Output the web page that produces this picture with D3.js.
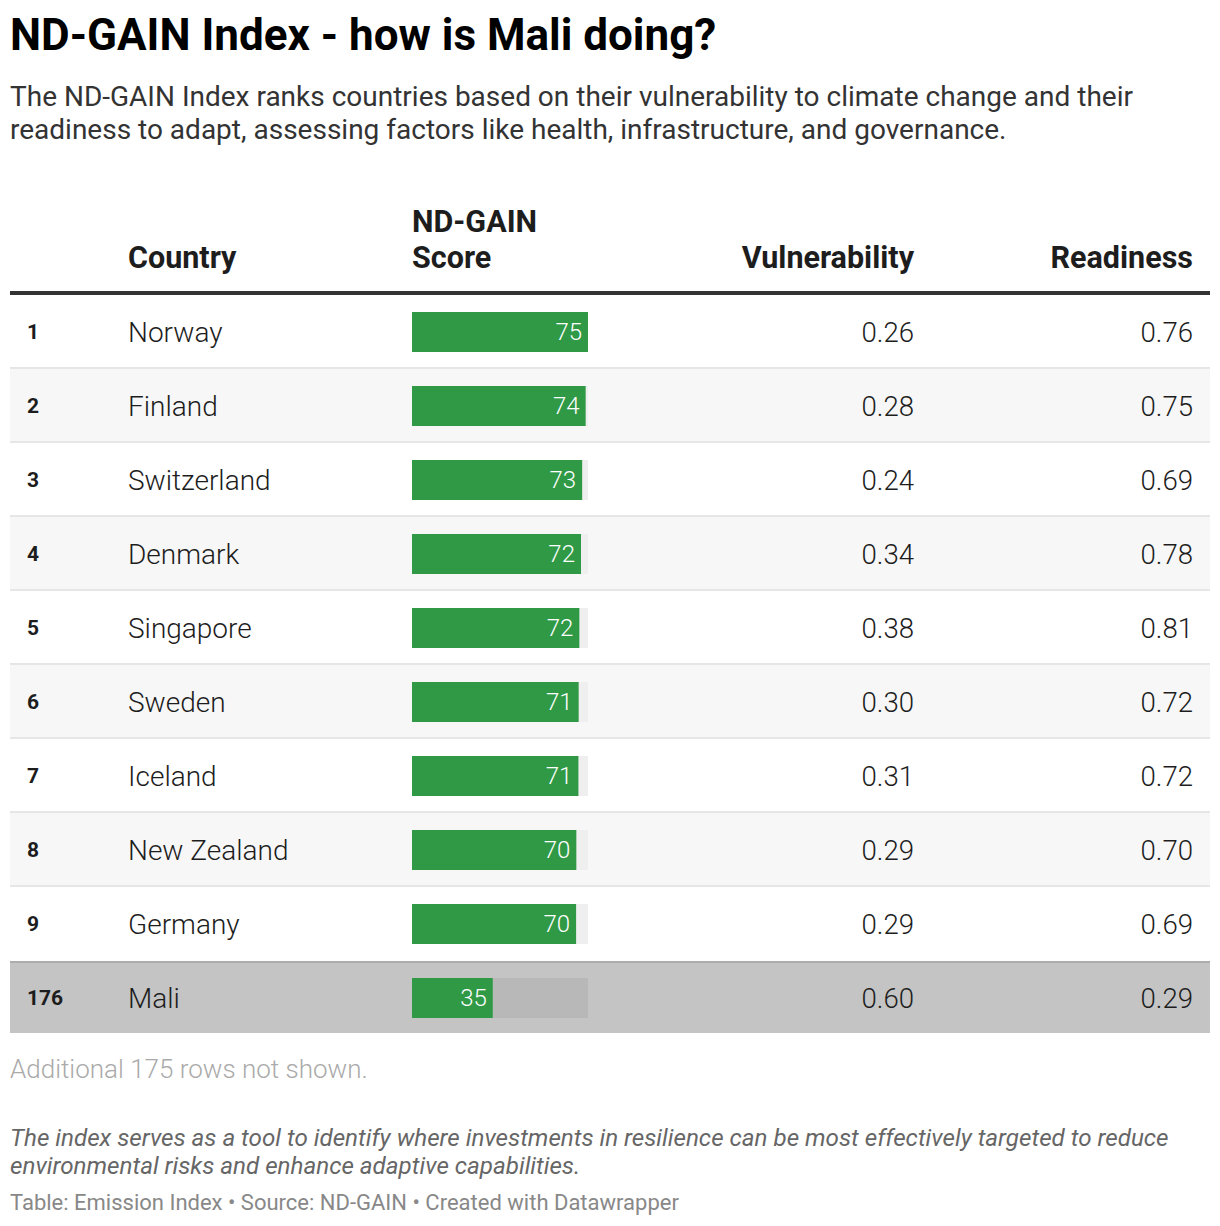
<!DOCTYPE html>
<html><head><meta charset="utf-8">
<script src="https://cdn.jsdelivr.net/npm/d3@7"></script>
<style>
html,body{margin:0;padding:0;background:#fff;}
svg{display:block;font-family:Roboto,"Noto Sans",sans-serif;}
</style></head>
<body>
<svg id="chart" width="1220" height="1226"></svg>
<script>
const ranks = [1,2,3,4,5,6,7,8,9,176];
const countries = ["Norway","Finland","Switzerland","Denmark","Singapore","Sweden","Iceland","New Zealand","Germany","Mali"];
const scores = [75.4,74.4,72.9,72.4,71.7,71.4,71.3,70.4,70.3,34.6];
const vulnerability = ["0.26","0.28","0.24","0.34","0.38","0.30","0.31","0.29","0.29","0.60"];
const readiness = ["0.76","0.75","0.69","0.78","0.81","0.72","0.72","0.70","0.69","0.29"];
const headers = {country:"Country", score:["ND-GAIN","Score"], vuln:"Vulnerability", ready:"Readiness"};
const highlight = "Mali";

const svg = d3.select("#chart");

svg.append("text").attr("x",10).attr("y",50)
  .attr("font-size",44).attr("font-weight",700).attr("fill","#000")
  .text("ND-GAIN Index - how is Mali doing?");
const sub = ["The ND-GAIN Index ranks countries based on their vulnerability to climate change and their",
  "readiness to adapt, assessing factors like health, infrastructure, and governance."];
svg.selectAll("text.sub").data(sub).join("text").attr("class","sub")
  .attr("x",10).attr("y",(d,i)=>106+i*33)
  .attr("font-size",28).attr("font-weight",400).attr("fill","#333").text(d=>d);

// header
const hdr = svg.append("g").attr("font-size",30.5).attr("font-weight",700).attr("fill","#1d1d1d");
hdr.append("text").attr("x",128).attr("y",268).text(headers.country);
hdr.append("text").attr("x",412).attr("y",232).text(headers.score[0]);
hdr.append("text").attr("x",412).attr("y",268).text(headers.score[1]);
hdr.append("text").attr("x",914).attr("y",268).attr("text-anchor","end").text(headers.vuln);
hdr.append("text").attr("x",1193).attr("y",268).attr("text-anchor","end").text(headers.ready);

const rows = countries.map((c,i)=>({rank:ranks[i],country:c,score:scores[i],vuln:vulnerability[i],ready:readiness[i],i}));

const y = d3.scaleBand().domain(d3.range(rows.length)).range([295,295+74*rows.length]).paddingInner(0);
const x = d3.scaleLinear().domain([0,d3.max(scores)]).range([0,176]);
const barX = 412, barH = 40;

const g = svg.append("g");
const row = g.selectAll("g.row").data(rows).join("g").attr("class","row")
  .attr("transform",d=>`translate(0,${y(d.i)})`);

row.append("rect").attr("x",10).attr("y",0).attr("width",1200).attr("height",d=>d.country===highlight?72:y.bandwidth())
  .attr("fill",d=>d.country===highlight?"#c4c4c4":(d.i%2===1?"#f7f7f7":"#fff"));
row.filter(d=>d.country!==highlight && d.i<rows.length-2).append("rect").attr("x",10).attr("y",y.bandwidth()-2).attr("width",1200).attr("height",2).attr("fill","#e6e6e6");
row.filter(d=>d.country===highlight).append("rect").attr("x",10).attr("y",0).attr("width",1200).attr("height",2).attr("fill","#adadad");

const cy = 37;
row.append("text").attr("x",27).attr("y",cy+7).attr("font-size",21).attr("font-weight",700).attr("fill","#1d1d1d").text(d=>d.rank);
row.append("text").attr("x",128).attr("y",cy+10).attr("font-size",28).attr("font-weight",300).attr("fill","#1d1d1d").text(d=>d.country);
row.append("rect").attr("x",barX).attr("y",cy-barH/2).attr("width",x.range()[1]).attr("height",barH)
  .attr("fill",d=>d.country===highlight?"#b8b8b8":"#efefef");
row.append("rect").attr("x",barX).attr("y",cy-barH/2).attr("width",d=>x(d.score)).attr("height",barH).attr("fill","#2f9946");
row.append("text").attr("x",d=>barX+x(d.score)-6).attr("y",cy+8).attr("text-anchor","end")
  .attr("font-size",24).attr("font-weight",300).attr("fill","#fff").text(d=>d3.format(".0f")(d.score));
row.append("text").attr("x",914).attr("y",cy+10).attr("text-anchor","end").attr("font-size",27.6).attr("font-weight",300).attr("fill","#1d1d1d").text(d=>d.vuln);
row.append("text").attr("x",1193).attr("y",cy+10).attr("text-anchor","end").attr("font-size",27.6).attr("font-weight",300).attr("fill","#1d1d1d").text(d=>d.ready);

// header rule
svg.append("rect").attr("x",10).attr("y",291).attr("width",1200).attr("height",4).attr("fill","#333");

svg.append("text").attr("x",10).attr("y",1078).attr("font-size",26).attr("font-weight",300).attr("fill","#aaa").text("Additional 175 rows not shown.");
const notes = ["The index serves as a tool to identify where investments in resilience can be most effectively targeted to reduce",
  "environmental risks and enhance adaptive capabilities."];
svg.selectAll("text.note").data(notes).join("text").attr("class","note")
  .attr("x",10).attr("y",(d,i)=>1146+i*28).attr("font-size",24.2).attr("font-style","italic").attr("fill","#666").text(d=>d);
svg.append("text").attr("x",10).attr("y",1210).attr("font-size",22).attr("fill","#888").text("Table: Emission Index • Source: ND-GAIN • Created with Datawrapper");
</script>
</body></html>
